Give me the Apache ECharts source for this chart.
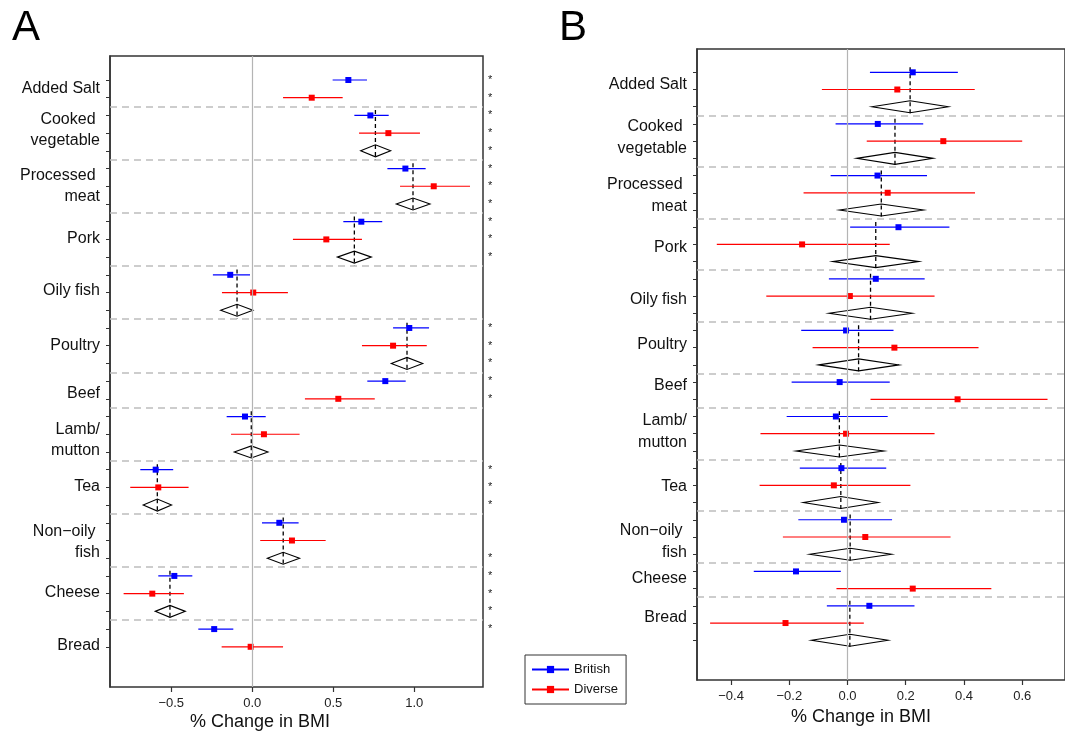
<!DOCTYPE html>
<html>
<head>
<meta charset="utf-8">
<script src="https://cdn.jsdelivr.net/npm/echarts@6/dist/echarts.min.js"></script>
<style>
html, body { margin: 0; padding: 0; background: #fff; }
#chart { width: 1065px; height: 731px; }
</style>
</head>
<body>
<div id="chart"></div>
<script>
var FONT = '"Liberation Sans", Arial, Helvetica, sans-serif';

var foods = ['Added Salt', 'Cooked \nvegetable', 'Processed \nmeat', 'Pork', 'Oily fish', 'Poultry', 'Beef',
  'Lamb/\nmutton', 'Tea', 'Non\u2212oily \nfish', 'Cheese', 'Bread'];

// ---------- panel A ----------
var aBritEst = [0.593, 0.729, 0.945, 0.673, -0.136, 0.969, 0.821, -0.045, -0.596, 0.167, -0.481, -0.235];
var aBritLo  = [0.496, 0.630, 0.834, 0.562, -0.243, 0.869, 0.710, -0.158, -0.691, 0.060, -0.580, -0.333];
var aBritHi  = [0.708, 0.842, 1.070, 0.802, -0.014, 1.091, 0.947, 0.083, -0.488, 0.286, -0.370, -0.117];
var aDivEst  = [0.367, 0.840, 1.120, 0.457, 0.006, 0.869, 0.531, 0.072, -0.580, 0.245, -0.617, -0.010];
var aDivLo   = [0.190, 0.659, 0.912, 0.251, -0.187, 0.677, 0.325, -0.131, -0.753, 0.049, -0.794, -0.189];
var aDivHi   = [0.558, 1.035, 1.344, 0.677, 0.220, 1.077, 0.756, 0.292, -0.393, 0.453, -0.422, 0.190];
var aMetaEst = [null, 0.760, 0.992, 0.630, -0.094, 0.955, null, -0.006, -0.586, 0.191, -0.508, null];
var aMetaLo  = [null, 0.669, 0.889, 0.525, -0.195, 0.858, null, -0.111, -0.673, 0.093, -0.599, null];
var aMetaHi  = [null, 0.854, 1.097, 0.735, 0.004, 1.052, null, 0.097, -0.498, 0.292, -0.413, null];
// significance stars (1 = star on that row)
var aStarBrit = [1, 1, 1, 1, 0, 1, 1, 0, 1, 0, 1, 1];
var aStarDiv  = [1, 1, 1, 1, 0, 1, 1, 0, 1, 0, 1, 0];
var aStarMeta = [0, 1, 1, 1, 0, 1, 0, 0, 1, 1, 1, 0];
var aLabelRows = [0.49, 2.82, 6.0, 8.95, 11.87, 14.97, 17.7, 20.31, 22.97, 26.1, 28.95, 31.92];
var aTicks = [-0.5, 0, 0.5, 1];

// ---------- panel B ----------
var bBritEst = [0.224, 0.104, 0.103, 0.175, 0.097, -0.005, -0.027, -0.040, -0.021, -0.012, -0.177, 0.075];
var bBritLo  = [0.077, -0.041, -0.058, 0.009, -0.064, -0.159, -0.192, -0.209, -0.164, -0.169, -0.322, -0.071];
var bBritHi  = [0.379, 0.260, 0.273, 0.350, 0.265, 0.158, 0.145, 0.138, 0.133, 0.153, -0.023, 0.230];
var bDivEst  = [0.171, 0.329, 0.138, -0.156, 0.008, 0.161, 0.378, -0.005, -0.047, 0.061, 0.224, -0.213];
var bDivLo   = [-0.088, 0.066, -0.151, -0.449, -0.279, -0.120, 0.079, -0.299, -0.302, -0.222, -0.038, -0.472];
var bDivHi   = [0.437, 0.600, 0.438, 0.145, 0.299, 0.450, 0.687, 0.299, 0.216, 0.354, 0.494, 0.056];
var bMetaEst = [0.215, 0.163, 0.116, 0.097, 0.079, 0.038, null, -0.028, -0.023, 0.009, null, 0.008];
var bMetaLo  = [0.084, 0.031, -0.028, -0.051, -0.064, -0.099, null, -0.177, -0.152, -0.130, null, -0.124];
var bMetaHi  = [0.346, 0.294, 0.261, 0.245, 0.222, 0.177, null, 0.125, 0.105, 0.151, null, 0.139];
var bLabelRows = [0.70, 3.82, 7.15, 10.19, 13.23, 15.85, 18.23, 20.85, 24.08, 27.27, 29.40, 31.67];
var bTicks = [-0.4, -0.2, 0, 0.2, 0.4, 0.6];

// lay the groups out as rows: British, Diverse, then the pooled diamond if there is one
function buildRows(bEst, bLo, bHi, dEst, dLo, dHi, mEst, mLo, mHi, sB, sD, sM) {
  var out = { brit: [], div: [], meta: [], seps: [], ticks: [], stars: [] };
  var r = 0;
  for (var i = 0; i < bEst.length; i++) {
    if (i > 0) out.seps.push(r - 0.5);
    out.brit.push([bLo[i], bHi[i], bEst[i], r]);
    out.div.push([dLo[i], dHi[i], dEst[i], r + 1]);
    out.ticks.push(r, r + 1);
    if (sB && sB[i]) out.stars.push(r);
    if (sD && sD[i]) out.stars.push(r + 1);
    if (mEst[i] !== null) {
      out.meta.push([mLo[i], mHi[i], mEst[i], r + 2, r]);
      out.ticks.push(r + 2);
      if (sM && sM[i]) out.stars.push(r + 2);
      r += 3;
    } else {
      r += 2;
    }
  }
  return out;
}

var rowsA = buildRows(aBritEst, aBritLo, aBritHi, aDivEst, aDivLo, aDivHi, aMetaEst, aMetaLo, aMetaHi,
  aStarBrit, aStarDiv, aStarMeta);
var rowsB = buildRows(bBritEst, bBritLo, bBritHi, bDivEst, bDivLo, bDivHi, bMetaEst, bMetaLo, bMetaHi);

function ciRender(color) {
  return function (params, api) {
    var y = api.value(3);
    var p1 = api.coord([api.value(0), y]);
    var p2 = api.coord([api.value(1), y]);
    var c = api.coord([api.value(2), y]);
    return {
      type: 'group',
      children: [
        { type: 'line', shape: { x1: p1[0], y1: p1[1], x2: p2[0], y2: p2[1] },
          style: { stroke: color, lineWidth: 1.2 } },
        { type: 'rect', shape: { x: c[0] - 3, y: c[1] - 3, width: 6, height: 6 },
          style: { fill: color } }
      ]
    };
  };
}

function metaRender(params, api) {
  var y = api.value(3);
  var l = api.coord([api.value(0), y]);
  var r = api.coord([api.value(1), y]);
  var c = api.coord([api.value(2), y]);
  var top = api.coord([api.value(2), api.value(4) - 0.3]);
  var bot = api.coord([api.value(2), y + 0.5]);
  return {
    type: 'group',
    children: [
      { type: 'line', shape: { x1: c[0], y1: top[1], x2: c[0], y2: bot[1] },
        style: { stroke: '#000', lineWidth: 1.3, lineDash: [4, 3] } },
      { type: 'polygon', shape: { points: [[l[0], c[1]], [c[0], c[1] - 6], [r[0], c[1]], [c[0], c[1] + 6]] },
        style: { fill: 'none', stroke: '#000', lineWidth: 1.1 } }
    ]
  };
}

function labelFor(rows) {
  return function (value) {
    for (var i = 0; i < rows.length; i++) {
      if (Math.abs(rows[i] - value) < 1e-6) return foods[i];
    }
    return '';
  };
}

function tickFmt(v) {
  return v.toFixed(1).replace('-', '\u2212');
}

function refLines(rows) {
  var d = [{ xAxis: 0, lineStyle: { color: '#b4b4b4', type: 'solid', width: 1.2 } }];
  rows.seps.forEach(function (s) {
    d.push({ yAxis: s, lineStyle: { color: '#bdbdbd', type: [7, 5], width: 1.5 } });
  });
  return d;
}

function xAxisFor(grid, min, max, ticks) {
  return {
    gridIndex: grid, type: 'value', min: min, max: max, position: 'bottom',
    axisLine: { show: false, onZero: false },
    splitLine: { show: false },
    axisTick: { show: true, customValues: ticks, length: 5, lineStyle: { color: '#333', width: 1.2 } },
    axisLabel: { customValues: ticks, formatter: tickFmt, fontSize: 13, color: '#222', margin: 10, fontFamily: FONT }
  };
}

function yAxisFor(grid, min, max, rows, labelRows, lineH) {
  return {
    gridIndex: grid, type: 'value', inverse: true, min: min, max: max, position: 'left',
    axisLine: { show: true, onZero: false, lineStyle: { color: '#333', width: 1.5 } },
    splitLine: { show: false },
    axisTick: { show: true, customValues: rows.ticks, length: 4, lineStyle: { color: '#333' } },
    axisLabel: { customValues: labelRows, formatter: labelFor(labelRows), fontSize: 16, lineHeight: lineH,
      color: '#111', margin: 10, fontFamily: FONT }
  };
}

var chart = echarts.init(document.getElementById('chart'));

var option = {
  animation: false,
  textStyle: { fontFamily: FONT },
  grid: [
    { left: 110, top: 56, width: 373, height: 631, show: true, borderColor: '#333', borderWidth: 1.5 },
    { left: 697, top: 49, width: 378, height: 631, show: true, borderColor: '#333', borderWidth: 1.5 }
  ],
  xAxis: [
    xAxisFor(0, -0.878, 1.424, aTicks),
    xAxisFor(1, -0.517, 0.747, bTicks)
  ],
  yAxis: [
    yAxisFor(0, -1.355, 34.27, rowsA, aLabelRows, 21),
    yAxisFor(1, -1.354, 35.31, rowsB, bLabelRows, 22),
    {
      gridIndex: 0, type: 'value', inverse: true, position: 'right', min: -1.355, max: 34.27,
      axisLine: { show: false, onZero: false }, axisTick: { show: false }, splitLine: { show: false },
      axisLabel: { customValues: rowsA.stars, formatter: function () { return '*'; },
        fontSize: 11, color: '#222', margin: 5, padding: [5, 0, 0, 0] }
    }
  ],
  legend: {
    data: ['British', 'Diverse'],
    orient: 'vertical', left: 525, top: 655,
    padding: [8, 8, 8, 6], itemGap: 7, itemWidth: 37, itemHeight: 9,
    borderColor: '#333', borderWidth: 1, selectedMode: false,
    textStyle: { fontSize: 13, color: '#111', fontFamily: FONT }
  },
  graphic: [
    { type: 'text', left: 12, top: 7, style: { text: 'A', fontSize: 42, fontFamily: FONT, fill: '#000' } },
    { type: 'text', left: 559, top: 7, style: { text: 'B', fontSize: 42, fontFamily: FONT, fill: '#000' } },
    { type: 'text', x: 260, y: 722, style: { text: '% Change in BMI', fontSize: 18, fontFamily: FONT, fill: '#111',
      align: 'center', verticalAlign: 'middle' } },
    { type: 'text', x: 861, y: 717, style: { text: '% Change in BMI', fontSize: 18, fontFamily: FONT, fill: '#111',
      align: 'center', verticalAlign: 'middle' } }
  ],
  series: [
    { name: 'frameA', type: 'line', xAxisIndex: 0, yAxisIndex: 0, data: [], z: 1,
      markLine: { silent: true, symbol: ['none', 'none'], label: { show: false }, animation: false, data: refLines(rowsA) } },
    { name: 'frameB', type: 'line', xAxisIndex: 1, yAxisIndex: 1, data: [], z: 1,
      markLine: { silent: true, symbol: ['none', 'none'], label: { show: false }, animation: false, data: refLines(rowsB) } },
    { name: 'British', type: 'line', xAxisIndex: 0, yAxisIndex: 0, data: [], symbol: 'rect', symbolSize: 7,
      color: '#0000ff', lineStyle: { color: '#0000ff', width: 1.5 } },
    { name: 'Diverse', type: 'line', xAxisIndex: 0, yAxisIndex: 0, data: [], symbol: 'rect', symbolSize: 7,
      color: '#ff0000', lineStyle: { color: '#ff0000', width: 1.5 } },
    { type: 'custom', xAxisIndex: 0, yAxisIndex: 0, z: 3, renderItem: metaRender, data: rowsA.meta, encode: { x: [0, 1, 2], y: 3 } },
    { type: 'custom', xAxisIndex: 0, yAxisIndex: 0, z: 4, renderItem: ciRender('#0000ff'), data: rowsA.brit, encode: { x: [0, 1, 2], y: 3 } },
    { type: 'custom', xAxisIndex: 0, yAxisIndex: 0, z: 4, renderItem: ciRender('#ff0000'), data: rowsA.div, encode: { x: [0, 1, 2], y: 3 } },
    { type: 'custom', xAxisIndex: 1, yAxisIndex: 1, z: 3, renderItem: metaRender, data: rowsB.meta, encode: { x: [0, 1, 2], y: 3 } },
    { type: 'custom', xAxisIndex: 1, yAxisIndex: 1, z: 4, renderItem: ciRender('#0000ff'), data: rowsB.brit, encode: { x: [0, 1, 2], y: 3 } },
    { type: 'custom', xAxisIndex: 1, yAxisIndex: 1, z: 4, renderItem: ciRender('#ff0000'), data: rowsB.div, encode: { x: [0, 1, 2], y: 3 } }
  ]
};

chart.setOption(option);
</script>
</body>
</html>
